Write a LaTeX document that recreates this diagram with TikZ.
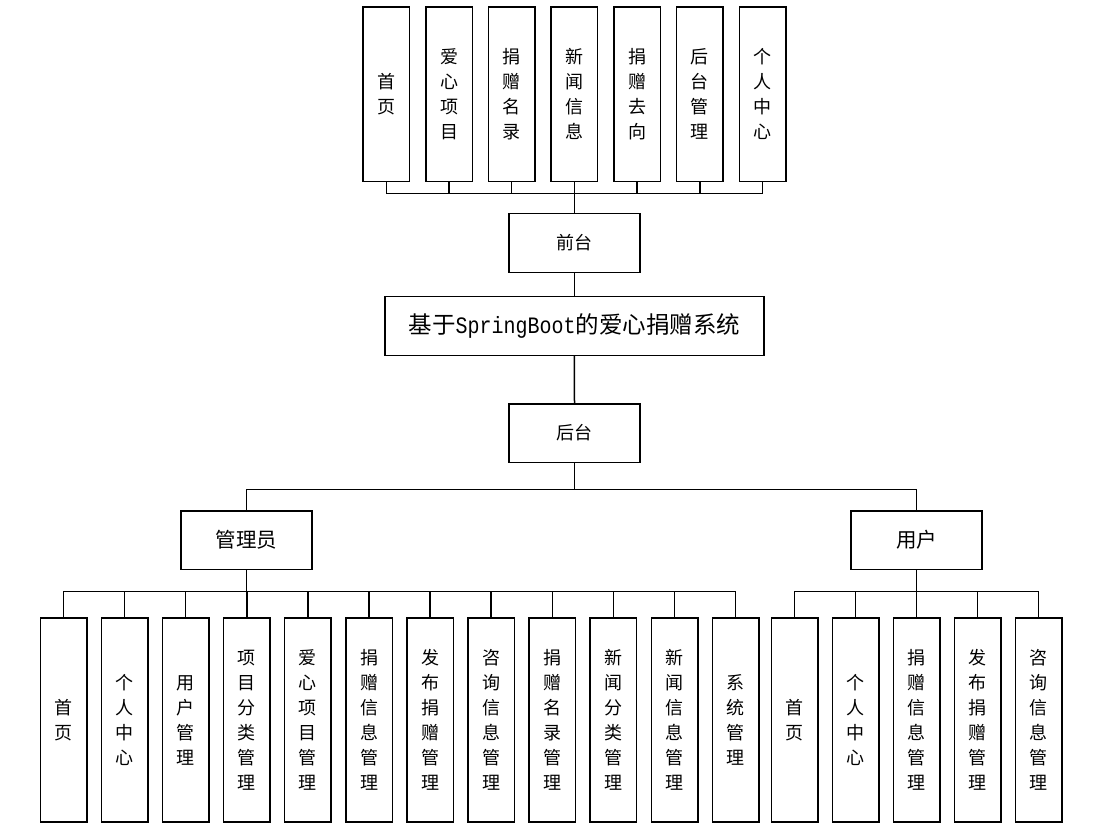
\documentclass[tikz,border=0pt]{standalone}
\usepackage{fontspec}
\setmainfont{Noto Sans CJK SC}
\newfontfamily\monof[FakeStretch=0.85]{Liberation Mono}
\tikzset{
  box/.style={draw=black, line width=1.5pt, inner sep=0pt, align=center},
  vbox/.style={box, minimum width=46.5pt, font=\fontsize{18pt}{25pt}\selectfont},
  hbox/.style={box, minimum width=131pt, minimum height=58.5pt},
  conn/.style={draw=black, line width=1.5pt}
}
\begin{document}
\begin{tikzpicture}[x=1pt,y=-1pt]
\useasboundingbox (0,0) rectangle (1112,832);
% top row
\foreach \t [count=\i] in {{首\\页},{爱\\心\\项\\目},{捐\\赠\\名\\录},{新\\闻\\信\\息},{捐\\赠\\去\\向},{后\\台\\管\\理},{个\\人\\中\\心}}
  \node[vbox, minimum height=174.5pt] (t\i) at ({386.3+62.7*(\i-1)},94.3) {\t};
\node[hbox, font=\fontsize{18pt}{22pt}\selectfont] (qt) at (574.4,243) {前台};
\node[box, minimum width=379.3pt, minimum height=58.6pt, font=\fontsize{23.5pt}{28pt}\selectfont] (main) at (574.4,326) {基于{\monof\fontsize{23.5pt}{28pt}\selectfont SpringBoot}的爱心捐赠系统};
\node[hbox, font=\fontsize{18pt}{22pt}\selectfont] (ht) at (574.5,433) {后台};
\node[hbox, font=\fontsize{20.5pt}{24pt}\selectfont] (gly) at (246.7,540) {管理员};
\node[hbox, font=\fontsize{20.5pt}{24pt}\selectfont] (yh) at (916.5,540) {用户};
% admin children
\foreach \t [count=\i] in {{首\\页},{个\\人\\中\\心},{用\\户\\管\\理},{项\\目\\分\\类\\管\\理},{爱\\心\\项\\目\\管\\理},{捐\\赠\\信\\息\\管\\理},{发\\布\\捐\\赠\\管\\理},{咨\\询\\信\\息\\管\\理},{捐\\赠\\名\\录\\管\\理},{新\\闻\\分\\类\\管\\理},{新\\闻\\信\\息\\管\\理},{系\\统\\管\\理}}
  \node[vbox, minimum height=204pt] (a\i) at ({63.5+61.1*(\i-1)},720) {\t};
% user children
\foreach \t [count=\i] in {{首\\页},{个\\人\\中\\心},{捐\\赠\\信\\息\\管\\理},{发\\布\\捐\\赠\\管\\理},{咨\\询\\信\\息\\管\\理}}
  \node[vbox, minimum height=204pt] (u\i) at ({794.5+61*(\i-1)},720) {\t};
% connectors
\foreach \i in {1,...,7}
  \draw[conn] (t\i.south) -- ++(0,11) -| (qt.north);
\draw[conn] (qt.south) -- (main.north);
\draw[conn] (main.south) -- (ht.north);
\draw[conn] (ht.south) -- ++(0,26.7) -| (gly.north);
\draw[conn] (ht.south) -- ++(0,26.7) -| (yh.north);
\foreach \i in {1,...,12}
  \draw[conn] (gly.south) -- ++(0,21.7) -| (a\i.north);
\foreach \i in {1,...,5}
  \draw[conn] (yh.south) -- ++(0,21.7) -| (u\i.north);
\end{tikzpicture}
\end{document}
